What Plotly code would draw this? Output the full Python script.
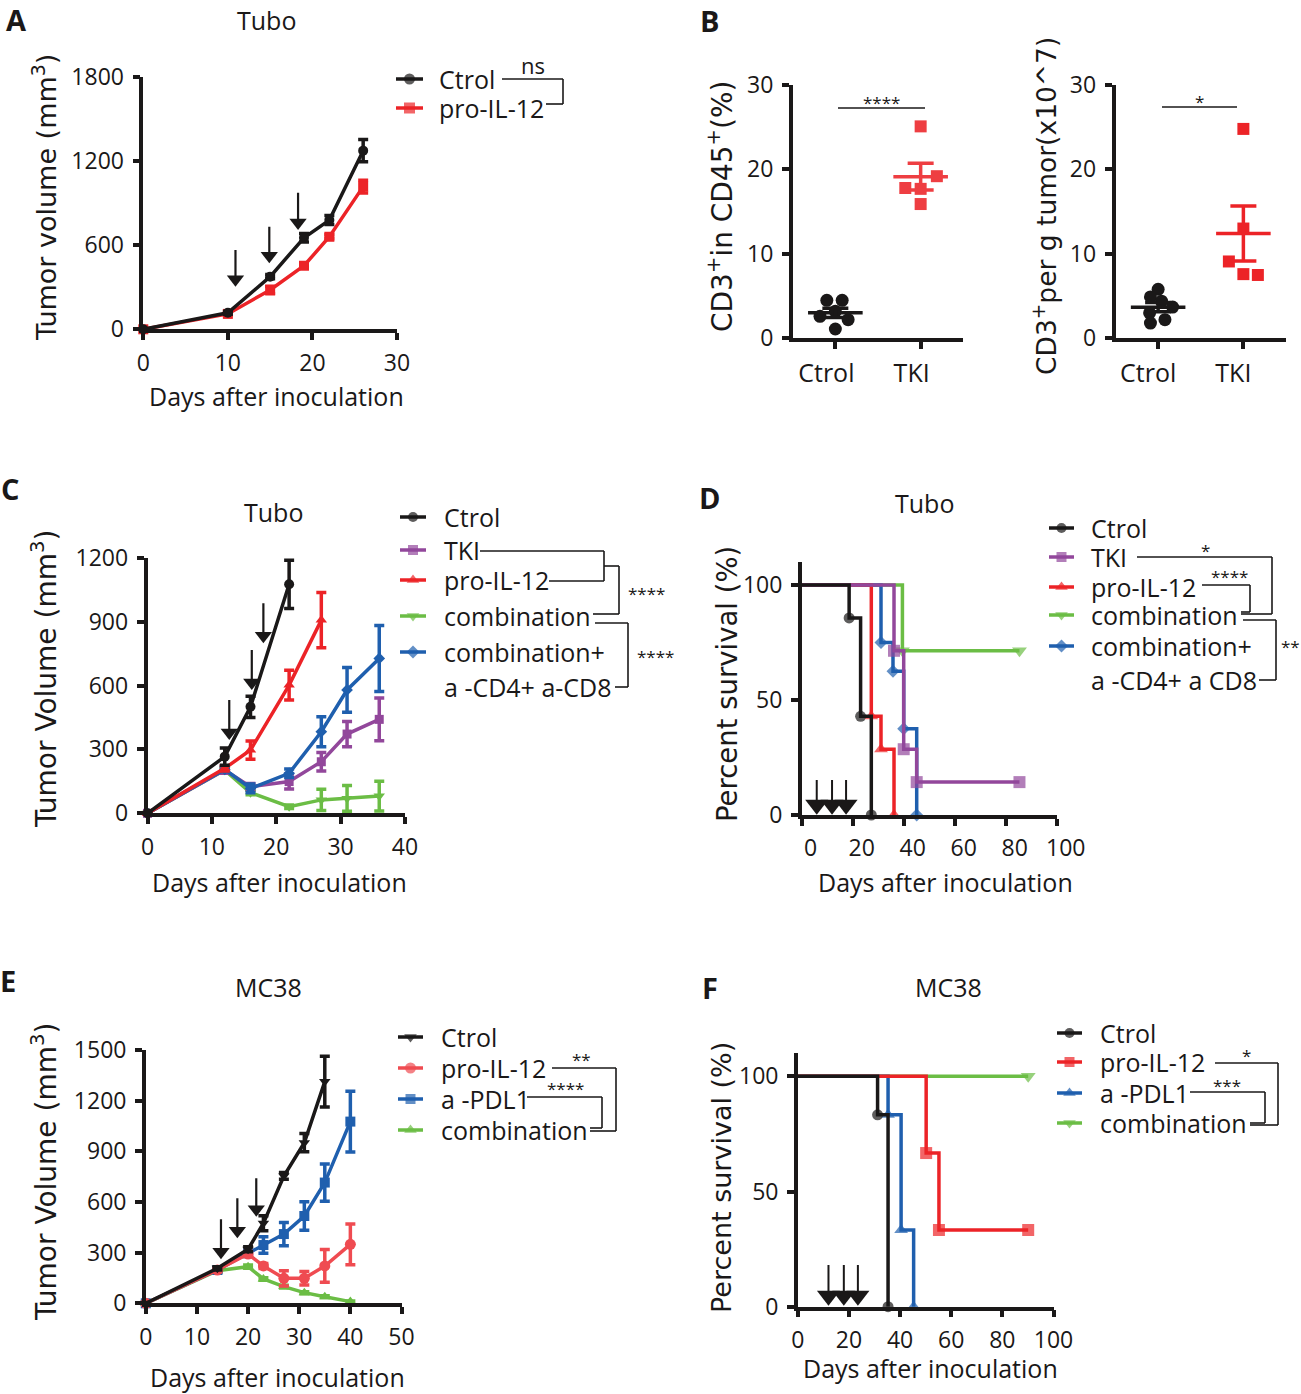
import plotly.graph_objects as go

W, H = 1301, 1394

# ---------------- DATA ----------------
# Panel A (Tubo)
A_days = [0, 10, 15, 19, 22, 26]
A_ctrol = [0, 118, 376, 654, 780, 1276]
A_ctrol_err = [0, 10, 15, 30, 32, 80]
A_pro = [0, 110, 281, 454, 661, 1019]
A_pro_err = [0, 8, 27, 12, 15, 45]
A_arrow_days = [10.9, 14.9, 18.3]
A_arrow_tip = [304, 471, 709]
A_arrow_top = [566, 733, 976]

# Panel B
B_cats = ["Ctrol", "TKI"]
B1_ctrol = [4.5, 4.5, 3.2, 2.6, 2.2, 1.1]
B1_ctrol_jit = [-0.10, 0.08, 0.0, -0.18, 0.15, 0.0]
B1_tki = [25.1, 19.2, 17.8, 17.7, 15.9]
B1_tki_jit = [0.0, 0.19, -0.18, 0.0, 0.0]
B2_ctrol = [5.8, 4.9, 4.4, 3.7, 3.0, 2.2, 1.8]
B2_ctrol_jit = [0.0, -0.09, 0.04, 0.17, -0.10, 0.08, -0.09]
B2_tki = [24.8, 13.0, 9.1, 7.6, 7.5]
B2_tki_jit = [0.0, 0.0, -0.17, 0.0, 0.17]

# Panel C (Tubo)
C_days = [0, 12, 16, 22, 27, 31, 36]
C_ctrol = [0, 266, 500, 1075]
C_ctrol_err = [0, 40, 50, 113]
C_tki = [0, 203, 125, 149, 242, 372, 441]
C_tki_err = [0, 15, 15, 35, 43, 59, 100]
C_pro = [0, 211, 297, 602, 907]
C_pro_err = [0, 12, 43, 70, 130]
C_comb = [0, 203, 97, 31, 63, 70, 81]
C_comb_err = [0, 10, 10, 8, 50, 60, 70]
C_combab = [0, 206, 117, 188, 383, 579, 727]
C_combab_err = [0, 10, 20, 20, 70, 105, 155]
C_arrow_days = [12.7, 16.2, 18.0]
C_arrow_tip = [344, 579, 798]
C_arrow_top = [532, 767, 986]

# Panel D (Tubo survival)
D_ctrol_t = [0, 18.6, 23.1, 27.3]
D_ctrol_s = [100, 85.7, 42.9, 0]
D_tki_t = [0, 36.2, 40.0, 45.1, 85.4]
D_tki_s = [100, 71.4, 28.6, 14.3, 14.3]
D_pro_t = [0, 27.3, 31.1, 36.2]
D_pro_s = [100, 42.9, 28.6, 0]
D_comb_t = [0, 39.5, 85.4]
D_comb_s = [100, 71.4, 71.4]
D_combab_t = [0, 31.1, 35.8, 40.0, 45.1]
D_combab_s = [100, 75.0, 62.5, 37.5, 0]
D_arrow_days = [5.9, 11.9, 17.4]

# Panel E (MC38)
E_days = [0, 14, 20, 23, 27, 31, 35, 40]
E_ctrol = [0, 207, 320, 474, 754, 951, 1313]
E_ctrol_err = [0, 10, 15, 44, 20, 54, 150]
E_pro = [0, 197, 292, 221, 148, 148, 221, 349]
E_pro_err = [0, 10, 15, 15, 45, 40, 97, 120]
E_pdl1 = [0, 197, 296, 345, 410, 517, 715, 1076]
E_pdl1_err = [0, 10, 15, 49, 69, 85, 110, 180]
E_comb = [0, 193, 217, 144, 99, 63, 39, 10]
E_comb_err = [0, 8, 10, 8, 8, 6, 5, 4]
E_arrow_days = [14.7, 17.9, 21.6]
E_arrow_tip = [261, 385, 513]
E_arrow_top = [497, 622, 740]

# Panel F (MC38 survival)
F_ctrol_t = [0, 31.2, 35.3]
F_ctrol_s = [100, 83.3, 0]
F_pro_t = [0, 50.2, 55.2, 90.1]
F_pro_s = [100, 66.7, 33.3, 33.3]
F_pdl1_t = [0, 35.3, 40.4, 45.3]
F_pdl1_s = [100, 83.3, 33.3, 0]
F_comb_t = [0, 90.1]
F_comb_s = [100, 100]
F_arrow_days = [12.0, 18.0, 23.5]

# ---------------- STYLE ----------------
BLACK = "#1a1818"
RED = "#ec2327"
RED_B = "#ee3e42"
RED_E = "#ef4b51"
PURPLE = "#92479b"
GREEN = "#6bbd45"
BLUE = "#1f5fae"
FONT = "Open Sans"
TITLE_FONT = "DejaVu Sans"
LW = 3.5


def px(x):
    return x / W


def py(y):
    return 1 - y / H


fig = go.Figure()
PX_PER_UNIT = {}


def axkey(i, a):
    return f"{a}axis" if i == 1 else f"{a}axis{i}"


def ref(i, a):
    return a if i == 1 else f"{a}{i}"


base_axis = dict(showline=True, linecolor=BLACK, linewidth=LW, ticks="outside",
                 ticklen=7, tickwidth=LW, tickcolor=BLACK, showgrid=False,
                 zeroline=False, fixedrange=True, automargin=False,
                 tickfont=dict(family=FONT, size=23, color=BLACK))


def make_axes(i, x0, x1, ytop, ybot, xr, yr, xt, yt, xtext=None, xshift=0):
    xa = dict(base_axis, domain=[px(x0), px(x1)], range=xr, anchor=ref(i, "y"),
              tickvals=xt, ticklabelstandoff=3)
    if xtext is not None:
        xa["ticktext"] = xtext
        xa["tickfont"] = dict(family=FONT, size=25, color=BLACK)
    if xshift:
        xa["ticklabelshift"] = xshift
    ya = dict(base_axis, domain=[py(ybot), py(ytop)], range=yr, anchor=ref(i, "x"),
              tickvals=yt, ticklabelstandoff=4)
    fig.layout[axkey(i, "x")] = xa
    fig.layout[axkey(i, "y")] = ya
    PX_PER_UNIT[i] = (ybot - ytop) / (yr[1] - yr[0])


make_axes(1, 143.3, 397, 77.3, 329.3, [0, 30], [0, 1800], [0, 10, 20, 30], [0, 600, 1200, 1800])
make_axes(2, 792.7, 963.3, 85, 338.3, [-0.5, 1.5], [0, 30], [0, 1], [0, 10, 20, 30], B_cats, xshift=-9)
make_axes(3, 1115.5, 1286, 85, 338.3, [-0.5, 1.5], [0, 30], [0, 1], [0, 10, 20, 30], B_cats, xshift=-10)
make_axes(4, 147.5, 405, 557.7, 813.3, [0, 40], [0, 1200], [0, 10, 20, 30, 40], [0, 300, 600, 900, 1200])
make_axes(5, 801.7, 1056.7, 562, 815, [0, 100], [0, 110], [0, 20, 40, 60, 80, 100], [0, 50, 100], xshift=9)
make_axes(6, 145.8, 401.5, 1050, 1303.3, [0, 50], [0, 1500], [0, 10, 20, 30, 40, 50], [0, 300, 600, 900, 1200, 1500])
make_axes(7, 797.8, 1053.5, 1053.3, 1306.7, [0, 100], [0, 110], [0, 20, 40, 60, 80, 100], [0, 50, 100])

# overlay pixel axis for legend glyphs
fig.layout["xaxis8"] = dict(domain=[0, 1], range=[0, W], visible=False, fixedrange=True, anchor="y8")
fig.layout["yaxis8"] = dict(domain=[0, 1], range=[H, 0], visible=False, fixedrange=True, anchor="x8")


def growth(i, days, vals, errs, color, symbol, msize=10):
    n = len(vals)
    fig.add_trace(go.Scatter(
        x=days[:n], y=vals, mode="lines+markers", xaxis=ref(i, "x"), yaxis=ref(i, "y"),
        line=dict(color=color, width=LW), cliponaxis=False,
        marker=dict(color=color, symbol=symbol, size=msize, line=dict(width=0)),
        error_y=dict(type="data", array=errs, visible=True, color=color, thickness=LW, width=5),
        showlegend=False, hoverinfo="skip"))


def survival(i, t, s, color, symbol, msize=11):
    sizes = [0] + [msize] * (len(t) - 1)
    fig.add_trace(go.Scatter(
        x=t, y=s, mode="lines+markers", xaxis=ref(i, "x"), yaxis=ref(i, "y"),
        line=dict(color=color, width=LW, shape="hv"), cliponaxis=False,
        marker=dict(color=color, symbol=symbol, size=sizes, line=dict(width=0)),
        showlegend=False, hoverinfo="skip"))


def dots(i, vals, jit, cat, color, symbol, msize=12):
    xs = [cat + j for j in jit]
    fig.add_trace(go.Scatter(x=xs, y=vals, mode="markers", xaxis=ref(i, "x"), yaxis=ref(i, "y"),
                             marker=dict(color=color, symbol=symbol, size=msize, line=dict(width=0)),
                             cliponaxis=False, showlegend=False, hoverinfo="skip"))
    n = len(vals)
    m = sum(vals) / n
    sd = (sum((v - m) ** 2 for v in vals) / (n - 1)) ** 0.5
    sem = sd / n ** 0.5
    fig.add_trace(go.Scatter(x=[cat - 0.32, cat + 0.32], y=[m, m], mode="lines",
                             xaxis=ref(i, "x"), yaxis=ref(i, "y"),
                             line=dict(color=color, width=LW), showlegend=False, hoverinfo="skip"))
    fig.add_trace(go.Scatter(x=[cat], y=[m], mode="markers", xaxis=ref(i, "x"), yaxis=ref(i, "y"),
                             marker=dict(size=0.1, color=color),
                             error_y=dict(type="data", array=[sem], color=color, thickness=LW, width=13),
                             showlegend=False, hoverinfo="skip"))


def arrows(i, days, tips, tops, size=15):
    # triangle-down marker: tip lies size/2 px below its centre
    off = (size / 2) / PX_PER_UNIT[i]
    centres = [t + off for t in tips]
    for d, c, tt in zip(days, centres, tops):
        fig.add_trace(go.Scatter(x=[d, d], y=[tt, c], mode="lines", xaxis=ref(i, "x"),
                                 yaxis=ref(i, "y"), line=dict(color=BLACK, width=2.2),
                                 showlegend=False, hoverinfo="skip", cliponaxis=False))
    fig.add_trace(go.Scatter(x=days, y=centres, mode="markers", xaxis=ref(i, "x"),
                             yaxis=ref(i, "y"), marker=dict(symbol="triangle-down", size=size, color=BLACK,
                                                            line=dict(width=0)),
                             showlegend=False, hoverinfo="skip", cliponaxis=False))


def tri_arrows(i, days, center, top):
    for d in days:
        fig.add_trace(go.Scatter(x=[d, d], y=[top, center], mode="lines", xaxis=ref(i, "x"),
                                 yaxis=ref(i, "y"), line=dict(color=BLACK, width=2),
                                 showlegend=False, hoverinfo="skip", cliponaxis=False))
    fig.add_trace(go.Scatter(x=days, y=[center] * len(days), mode="markers", xaxis=ref(i, "x"),
                             yaxis=ref(i, "y"), marker=dict(symbol="triangle-down", size=20, color=BLACK),
                             showlegend=False, hoverinfo="skip", cliponaxis=False))


# Panel A
growth(1, A_days, A_pro, A_pro_err, RED, "square", 10)
growth(1, A_days, A_ctrol, A_ctrol_err, BLACK, "circle", 10)
arrows(1, A_arrow_days, A_arrow_tip, A_arrow_top)

# Panel B
dots(2, B1_ctrol, B1_ctrol_jit, 0, BLACK, "circle", 13)
dots(2, B1_tki, B1_tki_jit, 1, RED_B, "square", 12)
dots(3, B2_ctrol, B2_ctrol_jit, 0, BLACK, "circle", 13)
dots(3, B2_tki, B2_tki_jit, 1, RED, "square", 12)

# Panel C
growth(4, C_days, C_comb, C_comb_err, GREEN, "triangle-down", 10)
growth(4, C_days, C_tki, C_tki_err, PURPLE, "square", 9)
growth(4, C_days, C_combab, C_combab_err, BLUE, "diamond", 9)
growth(4, C_days, C_pro, C_pro_err, RED, "triangle-up", 10)
growth(4, C_days, C_ctrol, C_ctrol_err, BLACK, "circle", 10)
arrows(4, C_arrow_days, C_arrow_tip, C_arrow_top)

# Panel D
survival(5, D_comb_t, D_comb_s, GREEN, "triangle-down", 13)
survival(5, D_combab_t, D_combab_s, BLUE, "diamond", 10)
survival(5, D_pro_t, D_pro_s, RED, "triangle-up", 12)
survival(5, D_tki_t, D_tki_s, PURPLE, "square", 12)
survival(5, D_ctrol_t, D_ctrol_s, BLACK, "circle", 11)
tri_arrows(5, D_arrow_days, 4.5, 15.2)

# Panel E
growth(6, E_days, E_comb, E_comb_err, GREEN, "triangle-up", 10)
growth(6, E_days, E_pdl1, E_pdl1_err, BLUE, "square", 10)
growth(6, E_days, E_pro, E_pro_err, RED_E, "circle", 11)
growth(6, E_days, E_ctrol, E_ctrol_err, BLACK, "triangle-down", 10)
arrows(6, E_arrow_days, E_arrow_tip, E_arrow_top)

# Panel F
survival(7, F_comb_t, F_comb_s, GREEN, "triangle-down", 13)
survival(7, F_pdl1_t, F_pdl1_s, BLUE, "triangle-up", 12)
survival(7, F_pro_t, F_pro_s, RED, "square", 12)
survival(7, F_ctrol_t, F_ctrol_s, BLACK, "circle", 11)
tri_arrows(7, F_arrow_days, 4.7, 18.1)


# ---------------- TEXT, LEGENDS, BRACKETS ----------------
def text(x, y, s, size=25, family=FONT, anchor="center", angle=0, bold=False):
    fig.add_annotation(x=px(x), y=py(y), xref="paper", yref="paper", text=s, showarrow=False,
                       xanchor=anchor, yanchor="middle", textangle=angle,
                       font=dict(family=family, size=size, color=BLACK,
                                 weight="bold" if bold else "normal"))


def line(x0, y0, x1, y1, w=1.6):
    fig.add_shape(type="line", x0=px(x0), y0=py(y0), x1=px(x1), y1=py(y1), xref="paper",
                  yref="paper", line=dict(color=BLACK, width=w))


def poly(points, w=1.6):
    for (a, b), (c, d) in zip(points[:-1], points[1:]):
        line(a, b, c, d, w)


def legend_item(x0, x1, y, tx, label, color, symbol, msize=11):
    fig.add_trace(go.Scatter(x=[x0, (x0 + x1) / 2, x1], y=[y, y, y], mode="lines+markers",
                             xaxis="x8", yaxis="y8", line=dict(color=color, width=LW),
                             marker=dict(color=color, symbol=symbol, size=[0, msize, 0], line=dict(width=0)),
                             showlegend=False, hoverinfo="skip"))
    text(tx, y, label, anchor="left")


# panel letters
for lx, ly, lt in [(16, 19, "A"), (709, 20, "B"), (10, 488, "C"), (709, 498, "D"), (8, 980, "E"), (710, 987, "F")]:
    text(lx, ly, lt, size=29, bold=True)

# titles
text(266, 20, "Tubo")
text(273, 512, "Tubo")
text(925, 503, "Tubo")
text(268, 987, "MC38")
text(948, 987, "MC38")

# x titles
text(276, 396, "Days after inoculation")
text(279, 882, "Days after inoculation")
text(945, 882, "Days after inoculation")
text(277, 1377, "Days after inoculation")
text(930, 1368, "Days after inoculation")

# y titles
text(44, 198, "Tumor volume (mm<sup>3</sup>)", size=27, family=TITLE_FONT, angle=-90)
text(721, 207, "CD3<sup>+</sup>in CD45<sup>+</sup>(%)", size=28, family=TITLE_FONT, angle=-90)
text(1045, 206, "CD3<sup>+</sup>per g tumor(x10^7)", size=26.5, family=TITLE_FONT, angle=-90)
text(44, 679, "Tumor Volume (mm<sup>3</sup>)", size=28, family=TITLE_FONT, angle=-90)
text(727, 684, "Percent survival (%)", size=27.5, family=TITLE_FONT, angle=-90)
text(44, 1172, "Tumor Volume (mm<sup>3</sup>)", size=28, family=TITLE_FONT, angle=-90)
text(721, 1178, "Percent survival (%)", size=27, family=TITLE_FONT, angle=-90)

# Legend A
legend_item(396, 423, 79, 437, "Ctrol", BLACK, "circle")
legend_item(396, 423, 108, 437, "pro-IL-12", RED, "square")
poly([(502, 79), (563, 79), (563, 104), (546, 104)])
text(533, 65, "ns", size=22)

# B significance
line(838, 108, 925, 108)
text(881, 103, "****", size=17)
line(1162, 107, 1237, 107)
text(1199, 101, "*", size=17)

# Legend C
legend_item(400, 426, 517, 442, "Ctrol", BLACK, "circle", 10)
legend_item(400, 426, 550, 442, "TKI", PURPLE, "square", 10)
legend_item(400, 426, 580, 442, "pro-IL-12", RED, "triangle-up", 11)
legend_item(400, 426, 616, 442, "combination", GREEN, "triangle-down", 11)
legend_item(400, 426, 652, 442, "combination+", BLUE, "diamond", 10)
text(442, 687, "a -CD4+ a-CD8", anchor="left")
poly([(480, 551), (604, 551), (604, 581), (549, 581)])
poly([(604, 566), (619, 566), (619, 614), (593, 614)])
text(646, 594, "****", size=17)
poly([(595, 623), (628, 623), (628, 687), (615, 687)])
text(655, 656, "****", size=17)

# Legend D
legend_item(1049, 1074, 528, 1089, "Ctrol", BLACK, "circle", 10)
legend_item(1049, 1074, 557, 1089, "TKI", PURPLE, "square", 10)
legend_item(1049, 1074, 587, 1089, "pro-IL-12", RED, "triangle-up", 11)
legend_item(1049, 1074, 615, 1089, "combination", GREEN, "triangle-down", 11)
legend_item(1049, 1074, 646, 1089, "combination+", BLUE, "diamond", 10)
text(1089, 680, "a -CD4+ a CD8", anchor="left")
poly([(1137, 557), (1272, 557), (1272, 614), (1241, 614)])
text(1205, 550, "*", size=17)
poly([(1202, 585), (1250, 585), (1250, 612), (1241, 612)])
text(1229, 576, "****", size=17)
poly([(1243, 620), (1276, 620), (1276, 680), (1259, 680)])
text(1290, 646, "**", size=17)

# Legend E
legend_item(398, 423, 1037, 439, "Ctrol", BLACK, "triangle-down", 11)
legend_item(398, 423, 1068, 439, "pro-IL-12", RED_E, "circle", 11)
legend_item(398, 423, 1099, 439, "a -PDL1", BLUE, "square", 10)
legend_item(398, 423, 1130, 439, "combination", GREEN, "triangle-up", 11)
poly([(552, 1068), (616, 1068), (616, 1131), (590, 1131)])
text(581, 1059, "**", size=17)
poly([(527, 1097), (602, 1097), (602, 1128), (590, 1128)])
text(565, 1088, "****", size=17)

# Legend F
legend_item(1057, 1082, 1033, 1098, "Ctrol", BLACK, "circle", 10)
legend_item(1057, 1082, 1062, 1098, "pro-IL-12", RED, "square", 10)
legend_item(1057, 1082, 1093, 1098, "a -PDL1", BLUE, "triangle-up", 11)
legend_item(1057, 1082, 1123, 1098, "combination", GREEN, "triangle-down", 11)
poly([(1215, 1063), (1278, 1063), (1278, 1125), (1250, 1125)])
text(1246, 1055, "*", size=17)
poly([(1190, 1092), (1265, 1092), (1265, 1123), (1250, 1123)])
text(1227, 1085, "***", size=17)

fig.update_layout(width=W, height=H, autosize=False,
                  margin=dict(l=0, r=0, t=0, b=0, pad=0, autoexpand=False),
                  paper_bgcolor="white", plot_bgcolor="rgba(0,0,0,0)", showlegend=False,
                  font=dict(family=FONT, color=BLACK))

fig.write_html("out.html", config={"displayModeBar": False, "responsive": False},
               post_script="document.body.style.margin='0';document.body.style.overflow='hidden';")
